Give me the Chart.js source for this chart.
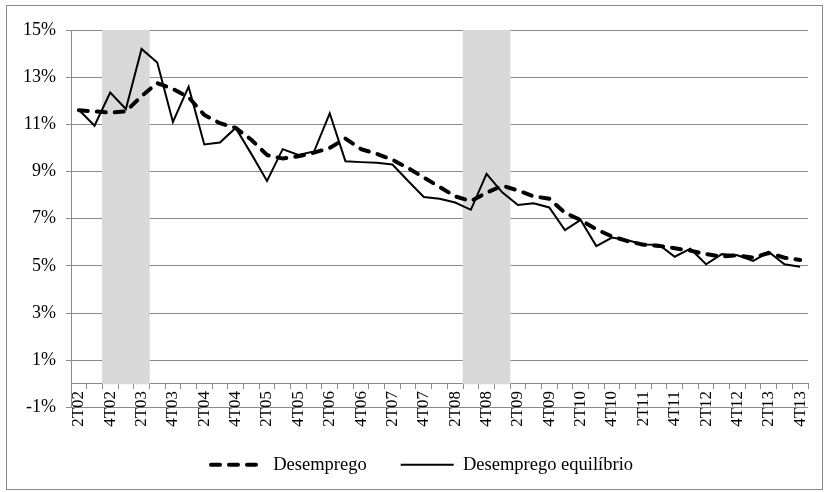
<!DOCTYPE html>
<html lang="pt">
<head>
<meta charset="utf-8">
<script src="https://cdn.jsdelivr.net/npm/chart.js@4.4.1/dist/chart.umd.min.js"></script>
<style>
  html, body { margin: 0; padding: 0; background: #fff; }
  #wrap { position: relative; width: 824px; height: 492px; }
  #grafico { display: block; }
  /* moldura cinza em volta do gráfico, como no original */
  #moldura { position: absolute; left: 6px; top: 5px; width: 815px; height: 483px; border: 1px solid #8a8a8a; pointer-events: none; }
</style>
</head>
<body>
<div id="wrap">
  <canvas id="grafico" width="824" height="492"></canvas>
  <div id="moldura"></div>
</div>
<script>
// Trimestres (2T02 a 4T13)
const trimestres = [
    '2T02', '3T02', '4T02',
    '1T03', '2T03', '3T03', '4T03',
    '1T04', '2T04', '3T04', '4T04',
    '1T05', '2T05', '3T05', '4T05',
    '1T06', '2T06', '3T06', '4T06',
    '1T07', '2T07', '3T07', '4T07',
    '1T08', '2T08', '3T08', '4T08',
    '1T09', '2T09', '3T09', '4T09',
    '1T10', '2T10', '3T10', '4T10',
    '1T11', '2T11', '3T11', '4T11',
    '1T12', '2T12', '3T12', '4T12',
    '1T13', '2T13', '3T13', '4T13'
];

// Taxa de desemprego (%), linha tracejada
const desemprego = [
    11.6, 11.55, 11.5,
    11.55, 12.2, 12.75, 12.5,
    12.15, 11.4, 11.05, 10.85,
    10.35, 9.7, 9.55, 9.65,
    9.8, 10.0, 10.4, 9.95,
    9.75, 9.5, 9.15, 8.75,
    8.35, 7.95, 7.75, 8.1,
    8.4, 8.2, 7.95, 7.85,
    7.25, 6.95, 6.55, 6.25,
    6.05, 5.9, 5.85, 5.75,
    5.65, 5.5, 5.4, 5.45,
    5.35, 5.55, 5.35, 5.25
];

// Desemprego de equilíbrio (%), linha cheia
const desempregoEquilibrio = [
    11.62, 10.94, 12.35,
    11.65, 14.2, 13.62, 11.1,
    12.6, 10.15, 10.23, 10.85,
    9.75, 8.6, 9.95, 9.7,
    9.85, 11.47, 9.44, 9.4,
    9.37, 9.3, 8.6, 7.92,
    7.85, 7.69, 7.38, 8.9,
    8.12, 7.58, 7.66, 7.48,
    6.52, 6.95, 5.84, 6.2,
    6.09, 5.91, 5.9, 5.39,
    5.73, 5.07, 5.5, 5.45,
    5.21, 5.59, 5.07, 4.97
];

// Trimestres sombreados (faixas cinza)
const trimestresSombreados = ['4T02', '1T03', '2T03', '3T08', '4T08', '1T09'];
const topoSombra = 15;

// Eixo vertical
const eixoMin = -1;
const eixoMax = 15;
const eixoPasso = 2;

document.addEventListener('DOMContentLoaded', function() {
    const serif = '"Liberation Serif", "Times New Roman", serif';
    Chart.defaults.font.family = serif;
    Chart.defaults.color = '#000';

    const cinzaGrade = '#8a8a8a';

    // faixa cinza: barra do zero até o topo nos trimestres marcados
    const sombra = trimestres.map(t => trimestresSombreados.includes(t) ? topoSombra : null);

    // desloca a legenda um pouco para a direita (centralizada sob a área de plotagem)
    const deslocaLegenda = {
        id: 'deslocaLegenda',
        afterLayout(chart) {
            chart.legend.left += 18;
            chart.legend.right += 18;
        }
    };

    const ctx = document.getElementById('grafico').getContext('2d');
    new Chart(ctx, {
        data: {
            labels: trimestres,
            datasets: [
                {
                    type: 'line',
                    label: 'Desemprego',
                    data: desemprego,
                    xAxisID: 'x',
                    borderColor: '#000',
                    borderWidth: 4,
                    borderDash: [9, 9],
                    borderCapStyle: 'round',
                    pointRadius: 0,
                    pointStyle: 'line',
                    tension: 0,
                    fill: false,
                    order: 1
                },
                {
                    type: 'line',
                    label: 'Desemprego equilíbrio',
                    data: desempregoEquilibrio,
                    xAxisID: 'x',
                    borderColor: '#000',
                    borderWidth: 2,
                    pointRadius: 0,
                    pointStyle: 'line',
                    tension: 0,
                    fill: false,
                    order: 2
                },
                {
                    type: 'bar',
                    label: 'sombra',
                    data: sombra,
                    xAxisID: 'x',
                    backgroundColor: '#d9d9d9',
                    borderWidth: 0,
                    barPercentage: 1,
                    categoryPercentage: 1,
                    order: 3
                }
            ]
        },
        plugins: [deslocaLegenda],
        options: {
            responsive: false,
            animation: false,
            events: [],
            layout: {
                padding: { left: 0, right: 16, top: 30, bottom: 8 }
            },
            plugins: {
                tooltip: { enabled: false },
                legend: {
                    position: 'bottom',
                    labels: {
                        usePointStyle: true,
                        pointStyleWidth: 53,
                        padding: 34,
                        color: '#000',
                        font: { size: 18.5 },
                        // amostras de linha com o mesmo traço das séries
                        generateLabels: function(chart) {
                            return Chart.defaults.plugins.legend.labels.generateLabels(chart)
                                .filter(item => item.datasetIndex !== 2)
                                .map(item => {
                                    const ds = chart.data.datasets[item.datasetIndex];
                                    item.lineDash = ds.borderDash || [];
                                    item.lineWidth = ds.borderWidth;
                                    item.lineCap = ds.borderCapStyle || 'butt';
                                    item.strokeStyle = ds.borderColor;
                                    item.fillStyle = ds.borderColor;
                                    item.pointStyle = 'line';
                                    return item;
                                });
                        }
                    }
                }
            },
            scales: {
                x: {
                    type: 'category',
                    position: { y: 0 },
                    offset: true,
                    grid: {
                        drawOnChartArea: false,
                        offset: true,
                        tickLength: 5,
                        color: cinzaGrade
                    },
                    border: { color: cinzaGrade, width: 1 },
                    ticks: {
                        autoSkip: false,
                        minRotation: 90,
                        maxRotation: 90,
                        padding: 2,
                        font: { size: 17 },
                        callback: function(valor, indice) {
                            return indice % 2 === 0 ? this.getLabelForValue(valor) : '';
                        }
                    }
                },
                // eixo vazio só para afastar a legenda da área do gráfico
                folga: {
                    type: 'category',
                    axis: 'x',
                    position: 'bottom',
                    grid: { display: false },
                    border: { display: false },
                    ticks: { display: false },
                    afterFit: function(escala) { escala.height = 14; }
                },
                y: {
                    min: eixoMin,
                    max: eixoMax,
                    ticks: {
                        stepSize: eixoPasso,
                        padding: 10,
                        font: { size: 18 },
                        callback: v => v + '%'
                    },
                    grid: { color: cinzaGrade, lineWidth: 1, tickLength: 5 },
                    border: { color: cinzaGrade, width: 1 },
                    afterFit: function(escala) { escala.width = 71; }
                }
            }
        }
    });
});
</script>
</body>
</html>
